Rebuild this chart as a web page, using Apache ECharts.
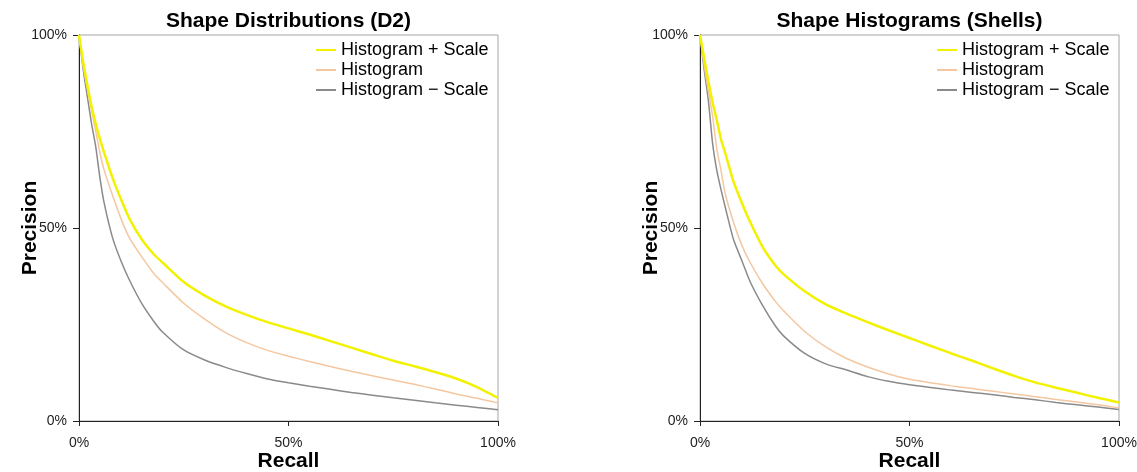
<!DOCTYPE html>
<html>
<head>
<meta charset="utf-8">
<script src="https://cdn.jsdelivr.net/npm/echarts@6/dist/echarts.min.js"></script>
<style>
html,body{margin:0;padding:0;background:#fff;}
#chart{width:1137px;height:472px;}
</style>
</head>
<body>
<div id="chart"></div>
<script>
// Recall sample points (%)
var recall = [0,1,2,3,4,5,6,8,10,12,15,18,20,25,30,35,40,45,50,55,60,65,70,75,80,85,90,95,100];

// Shape Distributions (D2) — precision (%)
var d2HistScale =   [100,93,87,81.5,77,73,69.5,63,57.5,52.5,47,43,41,36,32.5,29.7,27.5,25.6,24,22.4,20.7,19,17.3,15.6,14.2,12.7,11,8.8,6];
var d2Hist =        [100,92,86,80.5,75,69.5,65,58.5,52.5,47.5,42.5,38,35.8,30.5,26.4,22.9,20.3,18.3,16.8,15.4,14.1,12.9,11.7,10.6,9.5,8.3,7,5.9,4.7];
var d2HistNoScale = [100,91,84,77,71,63,56.5,47.5,41.5,36.6,30.4,25.6,23,18.4,15.8,13.9,12.3,10.9,9.9,9,8.2,7.4,6.7,6,5.4,4.7,4.1,3.5,2.9];

// Shape Histograms (Shells) — precision (%)
var shHistScale =   [100,94,88,82.5,78,73,69.5,62,56.5,51.5,45,40.3,38,33.6,30.2,27.8,25.6,23.5,21.5,19.5,17.5,15.6,13.6,11.7,10,8.6,7.3,6,4.8];
var shHist =        [100,92,85.5,79,70.5,65,59,51.5,45.5,41,35.5,31,28.5,23.2,19.2,16.2,14,12.2,10.8,9.9,9.1,8.4,7.7,7,6.3,5.6,4.9,4.2,3.4];
var shHistNoScale = [100,91,83,72,65,60,55.5,47,41.5,36,29.8,24.6,22,17.5,14.8,13.2,11.5,10.3,9.4,8.7,8,7.4,6.8,6.1,5.5,4.8,4.2,3.6,3];

var titles = ['Shape Distributions (D2)', 'Shape Histograms (Shells)'];
var seriesNames = ['Histogram + Scale', 'Histogram', 'Histogram \u2212 Scale'];
var xTicks = [0, 50, 100];
var yTicks = [0, 50, 100];

function pairs(ys){ return recall.map(function(r,i){ return [r, ys[i]]; }); }

var FONT = 'Liberation Sans, Arial, sans-serif';
var colors = ['#f2f200', '#f4c7a0', '#8a8a8a'];
var widths = [2.5, 1.5, 1.5];
var grids = [{left:79, top:35, width:419, height:386}, {left:700, top:35, width:419, height:386}];
var data = [[d2HistScale, d2Hist, d2HistNoScale],[shHistScale, shHist, shHistNoScale]];

var option = {
  animation:false,
  backgroundColor:'#fff',
  title: [],
  legend: [],
  grid: [],
  xAxis: [],
  yAxis: [],
  series: []
};

grids.forEach(function(g, k){
  option.grid.push({left:g.left, top:g.top, width:g.width, height:g.height, show:true,
    containLabel:false, outerBoundsMode:'none',
    borderColor:'#a6a6a6', borderWidth:1, backgroundColor:'transparent'});
  option.title.push({text:titles[k], left:g.left + g.width/2, textAlign:'center', top:11, padding:0,
    textStyle:{fontFamily:FONT, fontSize:21, fontWeight:'bold', color:'#000'}});
  option.legend.push({
    data: seriesNames.map(function(n){ return n + (k ? ' ' : ''); }),
    formatter: function(n){ return n.trim(); },
    orient:'vertical', left: g.left + g.width - 182, top:41, padding:0,
    icon:'rect', itemWidth:20, itemHeight:2, itemGap:2,
    textStyle:{fontFamily:FONT, fontSize:18, color:'#000', lineHeight:18}
  });
  option.xAxis.push({gridIndex:k, type:'value', min:0, max:100, interval:50,
    axisLine:{show:true, onZero:false, lineStyle:{color:'#222', width:1}},
    axisTick:{show:true, length:5, lineStyle:{color:'#222'}},
    splitLine:{show:false},
    axisLabel:{formatter:'{value}%', fontFamily:FONT, fontSize:14, color:'#222', margin:15},
    name:'Recall', nameLocation:'middle', nameGap:30, nameMoveOverlap:false,
    nameTextStyle:{fontFamily:FONT, fontSize:21, fontWeight:'bold', color:'#000'}
  });
  option.yAxis.push({gridIndex:k, type:'value', min:0, max:100, interval:50,
    axisLine:{show:true, onZero:false, lineStyle:{color:'#222', width:1}},
    axisTick:{show:true, length:6, lineStyle:{color:'#222'}},
    splitLine:{show:false},
    axisLabel:{formatter:'{value}%', fontFamily:FONT, fontSize:14, color:'#222', margin:12},
    name:'Precision', nameLocation:'middle', nameGap:38, nameMoveOverlap:false,
    nameTextStyle:{fontFamily:FONT, fontSize:21, fontWeight:'bold', color:'#000'}
  });
  for (var s = 2; s >= 0; s--) {
    option.series.push({
      name: seriesNames[s] + (k ? ' ' : ''), type:'line', xAxisIndex:k, yAxisIndex:k,
      data: pairs(data[k][s]), symbol:'none', showSymbol:false, smooth:0.2,
      lineStyle:{color:colors[s], width:widths[s]}, itemStyle:{color:colors[s]}, z: 3 + (2 - s)
    });
  }
});

var chart = echarts.init(document.getElementById('chart'), null, {renderer:'canvas'});
chart.setOption(option);
</script>
</body>
</html>
